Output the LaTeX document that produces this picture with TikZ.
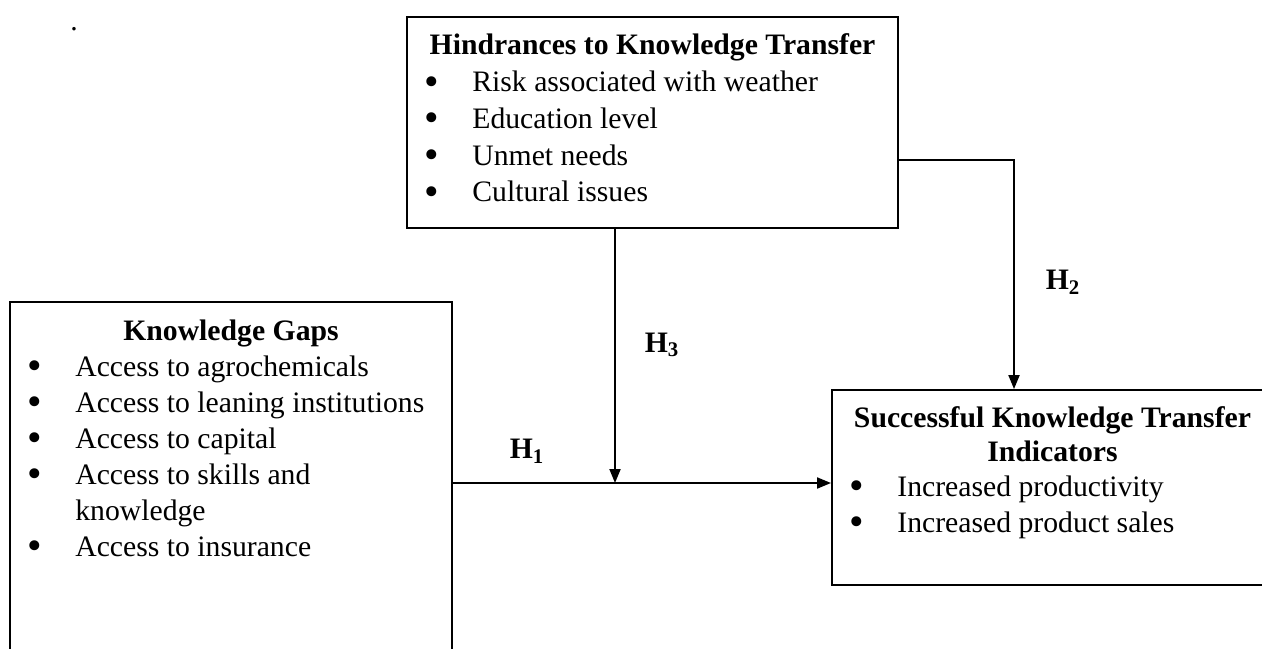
\documentclass[tikz,border=0pt]{standalone}
\usepackage{fontspec}
\setmainfont{Liberation Serif}
\usetikzlibrary{arrows.meta}

\tikzset{
  box/.style={draw, line width=1.1pt, inner sep=0pt},
  item/.style={anchor=base west, inner sep=0pt, font=\fontsize{16.9}{20}\selectfont},
  head/.style={anchor=base, inner sep=0pt, font=\fontsize{16.9}{20}\selectfont\bfseries},
  hyp/.style={inner sep=0pt, font=\fontsize{16.9}{20}\selectfont\bfseries},
  link/.style={line width=1.1pt, -{Triangle[length=0.28cm, width=0.22cm]}},
}
\newcommand{\bul}{\llap{\smash{\raisebox{-0.13em}{\scalebox{1.4}{\textbullet}}}\hspace{0.66cm}}}

\begin{document}
\begin{tikzpicture}
    \useasboundingbox (0, 0) rectangle (25.24, -12.96);
    \clip (0, 0) rectangle (25.24, -12.96);
    % boxes
    \node[box, minimum width=9.82cm, minimum height=4.22cm] (Hindrances) at (13.05, -2.45) {};
    \node[box, minimum width=8.84cm, minimum height=7.24cm] (Gaps) at (4.62, -9.66) {};
    \node[box, minimum width=8.82cm, minimum height=3.9cm] (Success) at (21.05, -9.75) {};
    \node[item] (Dot) at (1.40, -0.6) {.};
    % hindrances
    \node[head] (Hindrances Title) at (13.05, -1.08) {Hindrances to Knowledge Transfer};
    \node[item] (Risk) at (9.44, -1.83) {\bul Risk associated with weather};
    \node[item] (Education) at (9.44, -2.56) {\bul Education level};
    \node[item] (Unmet) at (9.44, -3.30) {\bul Unmet needs};
    \node[item] (Cultural) at (9.44, -4.03) {\bul Cultural issues};
    % gaps
    \node[head] (Gaps Title) at (4.62, -6.8) {Knowledge Gaps};
    \node[item] (Agro) at (1.5, -7.52) {\bul Access to agrochemicals};
    \node[item] (Leaning) at (1.5, -8.24) {\bul Access to leaning institutions};
    \node[item] (Capital) at (1.5, -8.96) {\bul Access to capital};
    \node[item] (Skills) at (1.5, -9.68) {\bul Access to skills and};
    \node[item] (Skills More) at (1.5, -10.4) {knowledge};
    \node[item] (Insurance) at (1.5, -11.12) {\bul Access to insurance};
    % success
    \node[head] (Success Title) at (21.05, -8.54) {Successful Knowledge Transfer};
    \node[head] (Success Title More) at (21.05, -9.22) {Indicators};
    \node[item] (Productivity) at (17.94, -9.92) {\bul Increased productivity};
    \node[item] (Sales) at (17.94, -10.64) {\bul Increased product sales};
    % links
    \coordinate (Meet) at (12.3, -9.66);
    \coordinate (Bend) at (20.28, -3.2);
    \draw[link] (Gaps.east) -- (Gaps.east -| Success.west);
    \draw[link] (Hindrances.south -| Meet) -- (Meet);
    \draw[link] (Hindrances.east |- Bend) -- (Bend) -- (Bend |- Success.north);
    \node[hyp] (H1) at (10.54, -9.02) {H\textsubscript{1}};
    \node[hyp] (H2) at (21.26, -5.64) {H\textsubscript{2}};
    \node[hyp] (H3) at (13.24, -6.9) {H\textsubscript{3}};
\end{tikzpicture}
\end{document}
